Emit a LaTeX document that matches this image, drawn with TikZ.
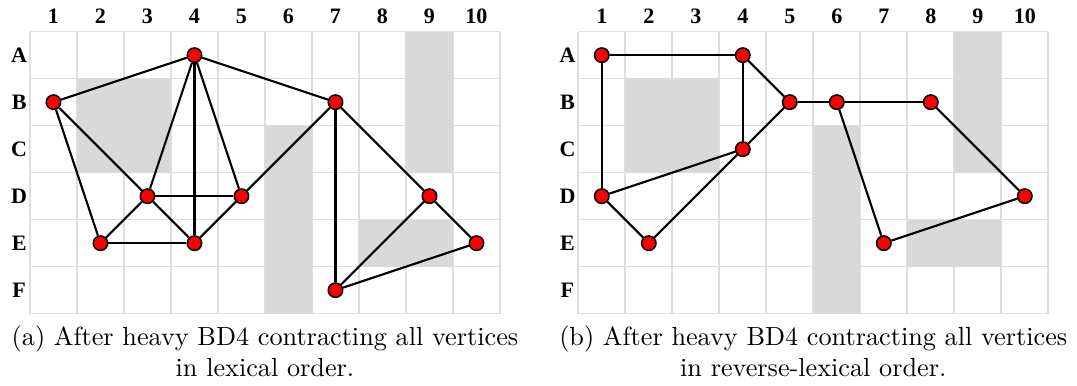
\documentclass[tikz,border=0pt]{standalone}
\usepackage{fontspec}
\newfontfamily\lblfont{Liberation Serif}
\usetikzlibrary{positioning}

\definecolor{cellgray}{RGB}{217,217,217}
\definecolor{gridgray}{RGB}{222,222,222}
\tikzset{
  vtx/.style={draw=black,fill=red,circle,inner sep=0pt,minimum size=5.5pt,line width=0.6pt},
  edge/.style={black,line width=0.8pt},
  blocked/.style={fill=cellgray},
  gridln/.style={draw=gridgray,line width=0.6pt},
  lbl/.style={font=\lblfont\fontsize{8.4}{10}\selectfont\bfseries},
  capt/.style={align=center,anchor=base}
}

\begin{document}
\begin{tikzpicture}[x=0.63cm,y=0.63cm]
    \useasboundingbox (-0.638,0.674) rectangle (22.277,-7.538);

    % both grids: grid lines, blocked cells, labels
    \foreach \g/\dx in {l/0,r/11.666}{
    \begin{scope}[shift={(\dx,0)}]
        \foreach \i in {0,...,10}
            \draw[gridln] (\i,0) -- (\i,-6);
        \foreach \j in {0,...,6}
            \draw[gridln] (0,-\j) -- (10,-\j);
        \fill[blocked] (1,-1) rectangle (3,-3);
        \fill[blocked] (5,-2) rectangle (6,-6);
        \fill[blocked] (8,0) rectangle (9,-3);
        \fill[blocked] (7,-4) rectangle (9,-5);
        \foreach \c in {1,...,10}
            \node[lbl] (\g col\c) at (\c-0.5,0.32) {\c};
        \foreach \r/\t in {1/A,2/B,3/C,4/D,5/E,6/F}
            \node[lbl] (\g row\t) at (-0.23,-\r+0.5) {\t};
    \end{scope}
    }

    % (a) lexical order
    \node[vtx] (la4) at (3.5,-0.5){};
    \node[vtx] (lb1) at (0.5,-1.5){};
    \node[vtx] (lb7) at (6.5,-1.5){};
    \node[vtx] (ld3) at (2.5,-3.5){};
    \node[vtx] (ld5) at (4.5,-3.5){};
    \node[vtx] (ld9) at (8.5,-3.5){};
    \node[vtx] (le2) at (1.5,-4.5){};
    \node[vtx] (le4) at (3.5,-4.5){};
    \node[vtx] (le10) at (9.5,-4.5){};
    \node[vtx] (lf7) at (6.5,-5.5){};
    \draw[edge] (la4) -- (lb1);
    \draw[edge] (la4) -- (lb7);
    \draw[edge] (la4) -- (ld3);
    \draw[edge] (la4) -- (le4);
    \draw[edge] (la4) -- (ld5);
    \draw[edge] (lb1) -- (ld3);
    \draw[edge] (lb1) -- (le2);
    \draw[edge] (lb7) -- (ld5);
    \draw[edge] (lb7) -- (lf7);
    \draw[edge] (lb7) -- (ld9);
    \draw[edge] (ld3) -- (ld5);
    \draw[edge] (ld3) -- (le2);
    \draw[edge] (ld3) -- (le4);
    \draw[edge] (le2) -- (le4);
    \draw[edge] (le4) -- (ld5);
    \draw[edge] (ld9) -- (lf7);
    \draw[edge] (ld9) -- (le10);
    \draw[edge] (le10) -- (lf7);
    \node[capt] (capa) at (5,-7.34)
        {(a) After heavy BD4 contracting all vertices\\in lexical order.};

    % (b) reverse-lexical order
    \begin{scope}[shift={(11.666,0)}]
    \node[vtx] (ra1) at (0.5,-0.5){};
    \node[vtx] (ra4) at (3.5,-0.5){};
    \node[vtx] (rb5) at (4.5,-1.5){};
    \node[vtx] (rb6) at (5.5,-1.5){};
    \node[vtx] (rb8) at (7.5,-1.5){};
    \node[vtx] (rc4) at (3.5,-2.5){};
    \node[vtx] (rd1) at (0.5,-3.5){};
    \node[vtx] (rd10) at (9.5,-3.5){};
    \node[vtx] (re2) at (1.5,-4.5){};
    \node[vtx] (re7) at (6.5,-4.5){};
    \draw[edge] (ra1) -- (ra4);
    \draw[edge] (ra1) -- (rd1);
    \draw[edge] (ra4) -- (rb5);
    \draw[edge] (ra4) -- (rc4);
    \draw[edge] (rc4) -- (rb5);
    \draw[edge] (rc4) -- (rd1);
    \draw[edge] (rc4) -- (re2);
    \draw[edge] (rd1) -- (re2);
    \draw[edge] (rb5) -- (rb6);
    \draw[edge] (rb6) -- (rb8);
    \draw[edge] (rb6) -- (re7);
    \draw[edge] (rb8) -- (rd10);
    \draw[edge] (rd10) -- (re7);
    \node[capt] (capb) at (5,-7.34)
        {(b) After heavy BD4 contracting all vertices\\in reverse-lexical order.};
    \end{scope}
\end{tikzpicture}
\end{document}
